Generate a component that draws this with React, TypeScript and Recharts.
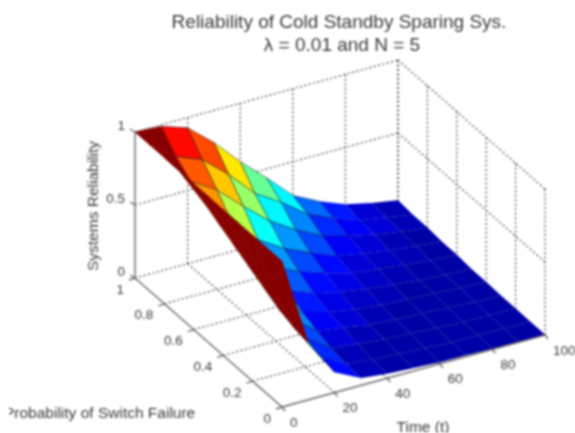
import React from 'react';
import { ScatterChart, Scatter, XAxis, YAxis } from 'recharts';

const WIDTH = 575;
const HEIGHT = 433;

const timeValues = [0, 10, 20, 30, 40, 50, 60, 70, 80, 90, 100];
const probValues = [1, 0.9, 0.8, 0.7, 0.6, 0.5, 0.4, 0.3, 0.2, 0.1, 0];

const timeTicks = [0, 20, 40, 60, 80, 100];
const probTicks = [1, 0.8, 0.6, 0.4, 0.2, 0];
const reliabilityTicks = [0, 0.5, 1];

// reliability along time, one list per switch failure probability
const relP10 = [1, 0.99, 0.93, 0.78, 0.6, 0.44, 0.27, 0.18, 0.11, 0.07, 0.04];
const relP09 = [1, 0.87, 0.8, 0.65, 0.47, 0.36, 0.23, 0.15, 0.09, 0.06, 0.03];
const relP08 = [1, 0.79, 0.68, 0.52, 0.37, 0.26, 0.17, 0.12, 0.08, 0.05, 0.03];
const relP07 = [1, 0.72, 0.55, 0.38, 0.27, 0.19, 0.12, 0.09, 0.06, 0.04, 0.02];
const relP06 = [1, 0.665, 0.43, 0.28, 0.2, 0.14, 0.09, 0.07, 0.05, 0.03, 0.02];
const relP05 = [1, 0.61, 0.36, 0.21, 0.14, 0.1, 0.07, 0.05, 0.03, 0.02, 0.01];
const relP04 = [1, 0.555, 0.3, 0.15, 0.1, 0.07, 0.05, 0.04, 0.03, 0.02, 0.01];
const relP03 = [1, 0.5, 0.25, 0.11, 0.08, 0.05, 0.04, 0.03, 0.02, 0.01, 0.005];
const relP02 = [1, 0.445, 0.2, 0.08, 0.06, 0.04, 0.03, 0.02, 0.01, 0.01, 0.005];
const relP01 = [1, 0.41, 0.16, 0.06, 0.04, 0.03, 0.02, 0.01, 0.01, 0.005, 0.002];
const relP00 = [1, 0.39, 0.14, 0.05, 0.03, 0.02, 0.01, 0.01, 0.005, 0.003, 0.001];
const surface = [relP10, relP09, relP08, relP07, relP06, relP05, relP04, relP03, relP02, relP01, relP00];

// view of the box: where t=0,p=1,z=0 lands and what each axis adds to it
const project = (t: number, p: number, z: number) => ({
  x: 135 + 2.63 * t + 147 * (1 - p),
  y: 278 - 0.72 * t + 129 * (1 - p) - 146 * z,
});

// matlab jet, 64 levels; the low end is lifted since the source blues never reach navy
const jet = (v: number) => {
  const level = (Math.min(Math.floor(Math.max(v, 0.045) * 64), 63) + 0.5) / 64;
  const ch = (c: number) => Math.round(255 * Math.max(0, Math.min(1, 1.5 - Math.abs(4 * level - c))));
  return `rgb(${ch(3)},${ch(2)},${ch(1)})`;
};

const renderPatch = (color: string, edge: string, edgeOpacity: number) => (props: any) => (
  <polygon
    points={props.points.map((pt: any) => `${pt.x},${pt.y}`).join(' ')}
    fill={color}
    stroke={edge}
    strokeWidth={0.8}
    strokeOpacity={edgeOpacity}
    strokeLinejoin="round"
  />
);

const noDot = () => <g />;

const guide = { stroke: '#444', strokeWidth: 1.2, strokeDasharray: '2 2.5' };
const solid = { stroke: '#666', strokeWidth: 1.4 };

const makeLabel = (text: string, anchor: string, size: number, rotate = 0) => (props: any) => (
  <text
    x={props.cx}
    y={props.cy}
    textAnchor={anchor as any}
    dominantBaseline="central"
    fontFamily="Liberation Sans"
    fontSize={size}
    fill="#3a3a3a"
    transform={rotate ? `rotate(${rotate} ${props.cx} ${props.cy})` : undefined}
  >
    {text}
  </text>
);

// the cropped left edge of the source image eats into the first letter
const leftMask = (props: any) => <rect x={props.cx} y={props.cy} width={9} height={26} fill="#fff" />;

const Seg = (key: string, pts: { x: number; y: number }[], line: any) => (
  <Scatter key={key} data={pts} dataKey="y" line={line} shape={noDot} isAnimationActive={false} />
);

const Txt = (key: string, x: number, y: number, render: any) => (
  <Scatter key={key} data={[{ x, y }]} dataKey="y" shape={render} isAnimationActive={false} />
);

const App: React.FC = () => {
  const guides: React.ReactNode[] = [];
  timeTicks.forEach((t) => {
    if (t > 0) guides.push(Seg(`wall-t${t}`, [project(t, 1, 0), project(t, 1, 1)], guide));
    if (t > 0) guides.push(Seg(`floor-t${t}`, [project(t, 1, 0), project(t, 0, 0)], guide));
  });
  probTicks.forEach((p) => {
    guides.push(Seg(`wall-p${p}`, [project(100, p, 0), project(100, p, 1)], guide));
    if (p > 0) guides.push(Seg(`floor-p${p}`, [project(0, p, 0), project(100, p, 0)], guide));
  });
  reliabilityTicks.forEach((z) => {
    if (z > 0) guides.push(Seg(`back-z${z}`, [project(0, 1, z), project(100, 1, z)], guide));
    if (z > 0) guides.push(Seg(`side-z${z}`, [project(100, 1, z), project(100, 0, z)], guide));
  });

  // far patches first so nearer ones cover them
  const patches: React.ReactNode[] = [];
  for (let i = timeValues.length - 2; i >= 0; i--) {
    for (let j = 0; j < probValues.length - 1; j++) {
      const corners = [
        project(timeValues[i], probValues[j], surface[j][i]),
        project(timeValues[i + 1], probValues[j], surface[j][i + 1]),
        project(timeValues[i + 1], probValues[j + 1], surface[j + 1][i + 1]),
        project(timeValues[i], probValues[j + 1], surface[j + 1][i]),
      ];
      const level = surface[j + 1][i];
      const color = jet(level);
      const edge = i === 0 ? color : '#00102a';
      patches.push(Seg(`patch-${i}-${j}`, corners, renderPatch(color, edge, level > 0.15 ? 0.6 : 0.12)));
    }
  }

  const axes: React.ReactNode[] = [
    Seg('axis-z', [project(0, 1, 0), project(0, 1, 1)], solid),
    Seg('axis-p', [project(0, 1, 0), project(0, 0, 0)], solid),
    Seg('axis-t', [project(0, 0, 0), project(100, 0, 0)], solid),
  ];
  reliabilityTicks.forEach((z) => {
    const a = project(0, 1, z);
    axes.push(Seg(`tick-z${z}`, [a, { x: a.x - 5, y: a.y - 3 }], solid));
    axes.push(Txt(`label-z${z}`, a.x - 10, a.y - 7, makeLabel(String(z), 'end', 13.5)));
  });
  probTicks.forEach((p) => {
    const a = project(0, p, 0);
    axes.push(Seg(`tick-p${p}`, [a, { x: a.x - 6, y: a.y + 2 }], solid));
    axes.push(Txt(`label-p${p}`, a.x - 11, a.y + 11, makeLabel(String(p), 'end', 13.5)));
  });
  timeTicks.forEach((t) => {
    const a = project(t, 0, 0);
    axes.push(Seg(`tick-t${t}`, [a, { x: a.x + 3, y: a.y + 4 }], solid));
    axes.push(Txt(`label-t${t}`, a.x + 8, a.y + 15, makeLabel(String(t), 'start', 13.5)));
  });

  return (
    <div style={{ position: 'absolute', left: 0, top: 0, width: WIDTH, height: HEIGHT, background: '#fff', filter: 'blur(0.8px)' }}>
      <ScatterChart width={WIDTH} height={HEIGHT} margin={{ top: 0, right: 0, bottom: 0, left: 0 }}>
        <XAxis type="number" dataKey="x" domain={[0, WIDTH]} hide />
        <YAxis type="number" dataKey="y" domain={[0, HEIGHT]} reversed hide />
        {guides}
        {patches}
        {axes}
        {Txt('title-1', 339, 21, makeLabel('Reliability of Cold Standby Sparing Sys.', 'middle', 19))}
        {Txt('title-2', 342, 44, makeLabel('λ = 0.01 and N = 5', 'middle', 19))}
        {Txt('ylabel', 92, 206, makeLabel('Systems Reliability', 'middle', 15.5, -90))}
        {Txt('xlabel', 423, 426, makeLabel('Time (t)', 'middle', 15.5))}
        {Txt('plabel', 4, 412, makeLabel('Probability of Switch Failure', 'start', 15.5))}
        {Txt('mask', 0, 400, leftMask)}
      </ScatterChart>
    </div>
  );
};

export default App;
